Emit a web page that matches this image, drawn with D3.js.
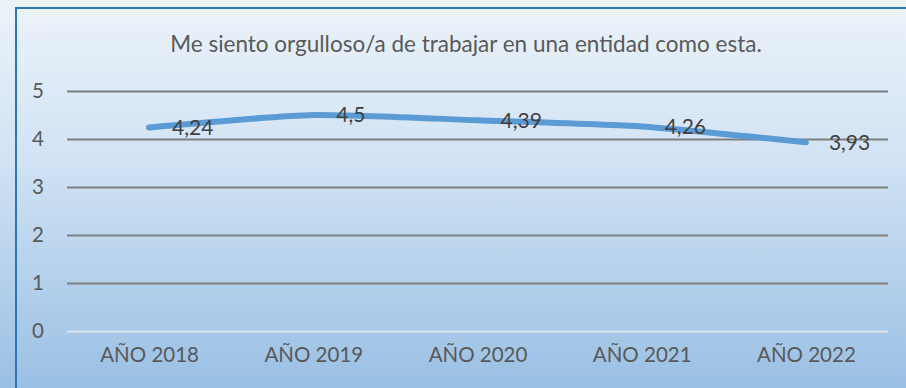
<!DOCTYPE html>
<html>
<head>
<meta charset="utf-8">
<script src="https://cdn.jsdelivr.net/npm/d3@7/dist/d3.min.js"></script>
<style>
  html, body { margin: 0; padding: 0; background: #fff; }
  svg { display: block; }
  text { font-family: Lato, "Open Sans", sans-serif; }
</style>
</head>
<body>
<svg id="chart" width="906" height="388"></svg>
<script>
// Survey item and yearly averages
const title = "Me siento orgulloso/a de trabajar en una entidad como esta.";
const years = ["AÑO 2018", "AÑO 2019", "AÑO 2020", "AÑO 2021", "AÑO 2022"];
const scores = [4.24, 4.5, 4.39, 4.26, 3.93];
const yTicks = [0, 1, 2, 3, 4, 5];

const W = 906, H = 388;
const plot = { left: 67, right: 888, top: 91, bottom: 331 };

const svg = d3.select("#chart");

// Background gradient
const defs = svg.append("defs");
const grad = defs.append("linearGradient")
  .attr("id", "bg").attr("x1", 0).attr("y1", 0).attr("x2", 0).attr("y2", 1);
grad.append("stop").attr("offset", "0%").attr("stop-color", "#ecf3fa");
grad.append("stop").attr("offset", "40%").attr("stop-color", "#d2e3f4");
grad.append("stop").attr("offset", "100%").attr("stop-color", "#9ac0e4");

svg.append("rect").attr("width", W).attr("height", H).attr("fill", "url(#bg)");

// Chart frame (left and top edges visible)
svg.append("path")
  .attr("d", `M16,${H + 2} L16,8 L${W + 2},8`)
  .attr("fill", "none")
  .attr("stroke", "#2e75b6")
  .attr("stroke-width", 2);

const x = d3.scalePoint().domain(years).range([plot.left, plot.right]).padding(0.5);
const y = d3.scaleLinear().domain([0, 5]).range([plot.bottom, plot.top]);

// Title
svg.append("text")
  .attr("x", 466).attr("y", 52)
  .attr("text-anchor", "middle")
  .attr("font-size", 22.5)
  .attr("fill", "#595959")
  .text(title);

// Horizontal gridlines with value labels
const yAxis = d3.axisLeft(y).tickValues(yTicks).tickSize(0).tickFormat(d3.format("d"));
const gy = svg.append("g").attr("transform", `translate(${plot.left},0)`).call(yAxis);
gy.select(".domain").remove();
gy.selectAll("text")
  .attr("x", -23)
  .attr("font-size", 20.5)
  .attr("font-family", "Lato, 'Open Sans', sans-serif")
  .attr("fill", "#595959");
gy.selectAll(".tick line")
  .attr("x2", plot.right - plot.left)
  .attr("stroke", d => d === 0 ? "#dfe4ea" : "#7f7f7f")
  .attr("stroke-width", 2);

// Category axis
const xAxis = d3.axisBottom(x).tickSize(0);
const gx = svg.append("g").attr("transform", `translate(0,${plot.bottom})`).call(xAxis);
gx.select(".domain").remove();
gx.selectAll("text")
  .attr("y", 31)
  .attr("dy", 0)
  .attr("font-size", 20.5)
  .attr("font-family", "Lato, 'Open Sans', sans-serif")
  .attr("fill", "#595959");

// Smoothed score line
const line = d3.line()
  .x((d, i) => x(years[i]))
  .y(d => y(d))
  .curve(d3.curveCardinal.tension(0.4));

svg.append("path")
  .datum(scores)
  .attr("d", line)
  .attr("fill", "none")
  .attr("stroke", "#5b9bd5")
  .attr("stroke-width", 6)
  .attr("stroke-linecap", "round")
  .attr("stroke-linejoin", "round");

// Value labels to the right of each point
const fmt = v => String(v).replace(".", ",");
svg.append("g").selectAll("text")
  .data(scores)
  .join("text")
  .attr("x", (d, i) => x(years[i]) + 23)
  .attr("y", d => y(d))
  .attr("dy", "0.35em")
  .attr("font-size", 21)
  .attr("fill", "#404040")
  .text(fmt);
</script>
</body>
</html>
